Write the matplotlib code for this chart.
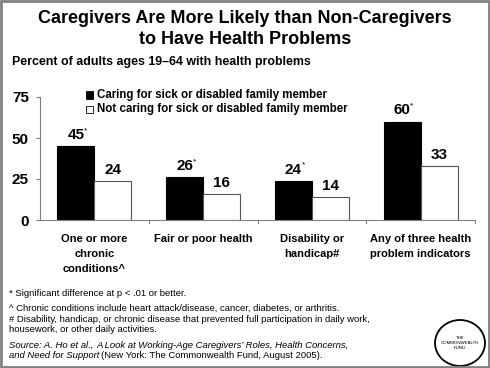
import matplotlib
matplotlib.use("Agg")
import matplotlib.pyplot as plt
from matplotlib.patches import Ellipse, Rectangle
import numpy as np

categories = ["One or more\nchronic\nconditions^", "Fair or poor health",
              "Disability or\nhandicap#", "Any of three health\nproblem indicators"]
caring = [45, 26, 24, 60]
not_caring = [24, 16, 14, 33]
caring_sig = [True, True, True, True]
yticks = [0, 25, 50, 75]
legend_labels = ["Caring for sick or disabled family member",
                 "Not caring for sick or disabled family member"]

title = "Caregivers Are More Likely than Non-Caregivers\nto Have Health Problems"
subtitle = "Percent of adults ages 19\u201364 with health problems"

plt.rcParams["font.family"] = ["Liberation Sans", "DejaVu Sans"]

W, H = 490, 368
fig = plt.figure(figsize=(4.9, 3.68), dpi=100)
ax = fig.add_axes([40/W, 1-220/H, 435/W, 123/H])

x = np.arange(len(categories))
w = 0.34
ax.bar(x - w/2, caring, w, color="black", edgecolor="black", linewidth=0.8)
ax.bar(x + w/2, not_caring, w, color="white", edgecolor="#555555", linewidth=0.8)

for i in range(len(categories)):
    ax.text(x[i] - w/2, caring[i] + 2.5, str(caring[i]), ha="center", va="bottom",
            fontsize=11, fontweight="bold")
    if caring_sig[i]:
        ax.text(x[i] - w/2 + 0.075, caring[i] + 7.5, "*", ha="left", va="bottom",
                fontsize=6)
    ax.text(x[i] + w/2, not_caring[i] + 2.5, str(not_caring[i]), ha="center",
            va="bottom", fontsize=11, fontweight="bold")

ax.set_xlim(-0.5, 3.5)
ax.set_ylim(0, 75)
ax.set_yticks(yticks)
ax.set_yticklabels([str(t) for t in yticks], fontsize=11, fontweight="bold")
ax.tick_params(axis="y", length=3, color="#808080", pad=5)
ax.set_xticks([])
for s in ["top", "right"]:
    ax.spines[s].set_visible(False)
for s in ["left", "bottom"]:
    ax.spines[s].set_color("#808080")
    ax.spines[s].set_linewidth(0.8)

# boundary ticks under the axis
for b in [0.5, 1.5, 2.5, 3.5]:
    ax.plot([b, b], [0, -1.8], color="#808080", lw=0.8, clip_on=False)

for i, c in enumerate(categories):
    ax.text(x[i], -8.5, c, ha="center", va="top", fontsize=8,
            fontweight="bold", linespacing=1.65)

# legend
lx = 86/W
for j, lab in enumerate(legend_labels):
    yy = 1-(95 + j*14)/H
    fig.patches.append(Rectangle((lx, yy - 3.5/H), 7/W, 7/H,
                                 transform=fig.transFigure,
                                 facecolor="black" if j == 0 else "white",
                                 edgecolor="black", linewidth=0.6))
    fig.text(97/W, yy, lab, ha="left", va="center", fontsize=8.3,
             fontweight="bold")

fig.text(0.5, 1-29/H, title, ha="center", va="center", fontsize=13,
         fontweight="bold", linespacing=1.35)
fig.text(12/W, 1-62/H, subtitle, ha="left", va="center", fontsize=8.9,
         fontweight="bold")

notes = [
    (293, "* Significant difference at p < .01 or better."),
    (308, "^ Chronic conditions include heart attack/disease, cancer, diabetes, or arthritis."),
    (319, "# Disability, handicap, or chronic disease that prevented full participation in daily work,"),
    (330, "housework, or other daily activities."),
]
fs = 6.8
for yy, t in notes:
    fig.text(9/W, 1-yy/H, t, ha="left", va="center", fontsize=fs)

# source with italic parts
fig.canvas.draw()
r = fig.canvas.get_renderer()
y1 = 1-345/H
t1 = fig.text(9/W, y1, "Source: A. Ho et al., ", ha="left", va="center",
              fontsize=fs, style="italic")
bb = t1.get_window_extent(r)
fig.text(bb.x1/W, y1,
         "A Look at Working-Age Caregivers\u2019 Roles, Health Concerns,",
         ha="left", va="center", fontsize=fs, style="italic")
y2 = 1-356/H
t3 = fig.text(9/W, y2, "and Need for Support", ha="left", va="center",
              fontsize=fs, style="italic")
bb3 = t3.get_window_extent(r)
fig.text(bb3.x1/W + 2/W, y2,
         "(New York: The Commonwealth Fund, August 2005).",
         ha="left", va="center", fontsize=fs)

# logo
fig.patches.append(Ellipse((460/W, 1-343/H), 50/W, 46/H,
                           transform=fig.transFigure, facecolor="white",
                           edgecolor="black", linewidth=1.3))
fig.text(460/W, 1-343/H, "THE\nCOMMONWEALTH\nFUND", ha="center",
         va="center", fontsize=3.2, linespacing=1.3)

# outer border
fig.patches.append(Rectangle((0.002, 0.003), 0.996, 0.994,
                             transform=fig.transFigure, fill=False,
                             edgecolor="#808080", linewidth=2))

fig.savefig("out.png", dpi=100)
